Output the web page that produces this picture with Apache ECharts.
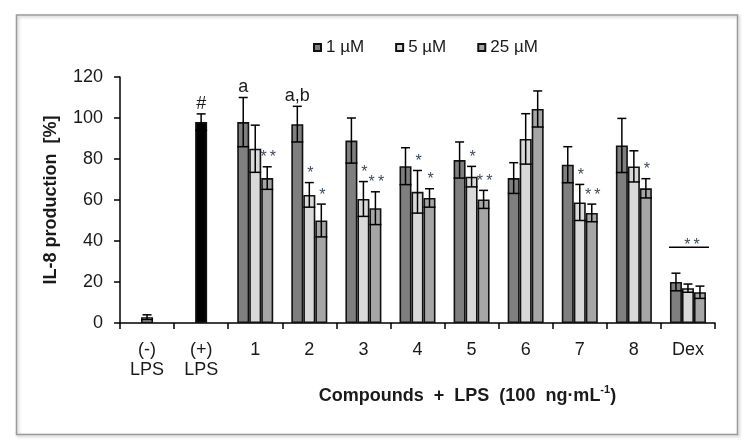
<!DOCTYPE html>
<html><head><meta charset="utf-8">
<script src="https://cdn.jsdelivr.net/npm/echarts@6/dist/echarts.min.js"></script>
<style>html,body{margin:0;padding:0;background:#fff}#c{width:752px;height:448px}</style>
</head><body><div id="c"></div>
<script>
// ---- data ----
const categories = ['(-)\nLPS', '(+)\nLPS', '1', '2', '3', '4', '5', '6', '7', '8', 'Dex'];
const seriesNames = ['1 µM', '5 µM', '25 µM'];
const yMin = 0, yMax = 120, yInterval = 20;

const controlMean = [2.8, 98];
const controlErr = [1.2, 4];
const controlMarks = ['', '#'];

const mean1 = [98, 97, 89, 76.5, 79.5, 70.7, 77.2, 86.6, 20];
const err1 = [12, 8.7, 11, 9, 8.8, 7.5, 8.8, 13.2, 4.3];
const marks1 = ['a', 'a,b', '', '', '', '', '', '', ''];

const mean5 = [85, 62.5, 60.5, 64, 71.4, 89.8, 58.8, 76.4, 17];
const err5 = [11.5, 6, 8.5, 10.4, 5, 12.3, 8.8, 7.6, 2];
const marks5 = ['', '*', '*', '*', '*', '', '*', '', ''];

const mean25 = [70.7, 50, 56, 61, 60.3, 104.4, 53.7, 65.7, 15];
const err25 = [5.5, 8, 8, 4.5, 4.4, 8.8, 4.3, 4.7, 3];
const marks25 = ['**', '*', '**', '*', '**', '', '**', '*', ''];

const dexBracketValue = 37;
const dexBracketMark = '**';

// ---- styling ----
const FONT = "'Liberation Sans', Arial, sans-serif";
const colors = ['#7f7f7f', '#d9d9d9', '#a6a6a6'];
const controlColors = ['#d9d9d9', '#000000'];
const STAR = '#3f4b58';
const BW = 12;
const compStart = 2;

function markText(t, x, y) {
  const isStar = /^\*+$/.test(t);
  return {
    type: 'text', x: x + (isStar ? 1 : 0), y: y,
    style: {
      text: isStar ? t.split('').join('\u2009') : t,
      fontSize: isStar ? 16 : 18, fontFamily: FONT,
      fill: isStar ? STAR : '#1a1a1a', align: 'center', verticalAlign: 'bottom'
    }
  };
}

function errRenderer(means, errs, marks, startIdx, offset) {
  return function (params, api) {
    const i = params.dataIndex;
    const cat = startIdx + i;
    const m = means[i], e = errs[i];
    const pt = api.coord([cat, m + e]);
    const pb = api.coord([cat, Math.max(m - e, 0)]);
    const x = pt[0] + offset;
    const st = { stroke: '#000', lineWidth: 1.5 };
    const children = [
      { type: 'line', shape: { x1: x, y1: pt[1], x2: x, y2: pb[1] }, style: st },
      { type: 'line', shape: { x1: x - 4.5, y1: pt[1], x2: x + 4.5, y2: pt[1] }, style: st },
      { type: 'line', shape: { x1: x - 6, y1: pb[1], x2: x + 6, y2: pb[1] }, style: st }
    ];
    if (marks[i]) children.push(markText(marks[i], x, pt[1] - 1));
    return { type: 'group', children: children };
  };
}

const pad = arr => ['-', '-'].concat(arr);
const groups = [[mean1, err1, marks1], [mean5, err5, marks5], [mean25, err25, marks25]];

const series = [];
groups.forEach((g, k) => {
  series.push({
    name: seriesNames[k], type: 'bar', xAxisIndex: 0, barWidth: BW, barGap: '0%',
    data: pad(g[0]),
    itemStyle: { color: colors[k], borderColor: '#111', borderWidth: 1.6 },
    z: 2
  });
});
groups.forEach((g, k) => {
  series.push({
    name: seriesNames[k] + ' err', type: 'custom', xAxisIndex: 0,
    renderItem: errRenderer(g[0], g[1], g[2], compStart, (k - 1) * BW),
    data: g[0].map((m, i) => [compStart + i, m + g[1][i]]),
    z: 5, silent: true
  });
});
series.push({
  name: 'control', type: 'bar', xAxisIndex: 1, barWidth: BW,
  data: controlMean.map((v, i) => ({ value: v, itemStyle: { color: controlColors[i] } }))
    .concat(new Array(categories.length - controlMean.length).fill('-')),
  itemStyle: { borderColor: '#111', borderWidth: 1.6 }, z: 2
});
series.push({
  name: 'control err', type: 'custom', xAxisIndex: 1,
  renderItem: errRenderer(controlMean, controlErr, controlMarks, 0, 0),
  data: controlMean.map((m, i) => [i, m + controlErr[i]]),
  z: 5, silent: true
});
series.push({
  name: 'dex bracket', type: 'custom', xAxisIndex: 0,
  renderItem: function (params, api) {
    const p = api.coord([categories.length - 1, dexBracketValue]);
    return {
      type: 'group', children: [
        { type: 'line', shape: { x1: p[0] - 19, y1: p[1], x2: p[0] + 21, y2: p[1] }, style: { stroke: '#000', lineWidth: 1.5 } },
        markText(dexBracketMark, p[0] + 3, p[1] + 6)
      ]
    };
  },
  data: [[categories.length - 1, dexBracketValue]], z: 5, silent: true
});

const chart = echarts.init(document.getElementById('c'));
chart.setOption({
  animation: false,
  backgroundColor: '#fff',
  textStyle: { fontFamily: FONT },
  graphic: [{
    type: 'rect', shape: { x: 16.5, y: 15, width: 721, height: 419.5 },
    style: { fill: 'none', stroke: '#9a9a9a', lineWidth: 1.5, shadowBlur: 3, shadowOffsetX: 1.5, shadowOffsetY: 1.5, shadowColor: 'rgba(0,0,0,0.25)' },
    z: -1
  }],
  legend: {
    data: seriesNames, left: 313, top: 39, itemWidth: 7, itemHeight: 7, itemGap: 31, padding: 0,
    icon: 'rect',
    textStyle: { fontSize: 17, color: '#1a1a1a', fontFamily: FONT }
  },
  grid: { left: 120, right: 37, top: 77, bottom: 125, containLabel: false },
  xAxis: [{
    type: 'category', data: categories,
    axisLine: { lineStyle: { color: '#000', width: 1.5 } },
    axisTick: { show: true, length: 6, lineStyle: { color: '#000', width: 1.5 } },
    axisLabel: { fontSize: 18, lineHeight: 20, margin: 17, color: '#1a1a1a', fontFamily: FONT, interval: 0 },
    name: '{b|Compounds  +  LPS  (100  ng·mL}{s|-1}{b|)}',
    nameLocation: 'middle', nameGap: 54,
    nameTextStyle: {
      padding: [0, 0, 0, 100],
      rich: {
        b: { fontSize: 18, fontWeight: 'bold', color: '#1a1a1a', fontFamily: FONT },
        s: { fontSize: 11, fontWeight: 'bold', color: '#1a1a1a', fontFamily: FONT, verticalAlign: 'top', lineHeight: 22 }
      }
    }
  }, {
    type: 'category', data: categories, show: false
  }],
  yAxis: {
    type: 'value', min: yMin, max: yMax, interval: yInterval,
    axisLine: { show: true, lineStyle: { color: '#000', width: 1.5 } },
    axisTick: { show: true, length: 6, lineStyle: { color: '#000', width: 1.5 } },
    splitLine: { show: false },
    axisLabel: { fontSize: 18, margin: 17, color: '#1a1a1a', fontFamily: FONT },
    name: 'IL-8 production  [%]', nameLocation: 'middle', nameGap: 60, nameRotate: 90,
    nameTextStyle: { fontSize: 18, fontWeight: 'bold', color: '#1a1a1a', fontFamily: FONT }
  },
  series: series
});
</script>
</body></html>
